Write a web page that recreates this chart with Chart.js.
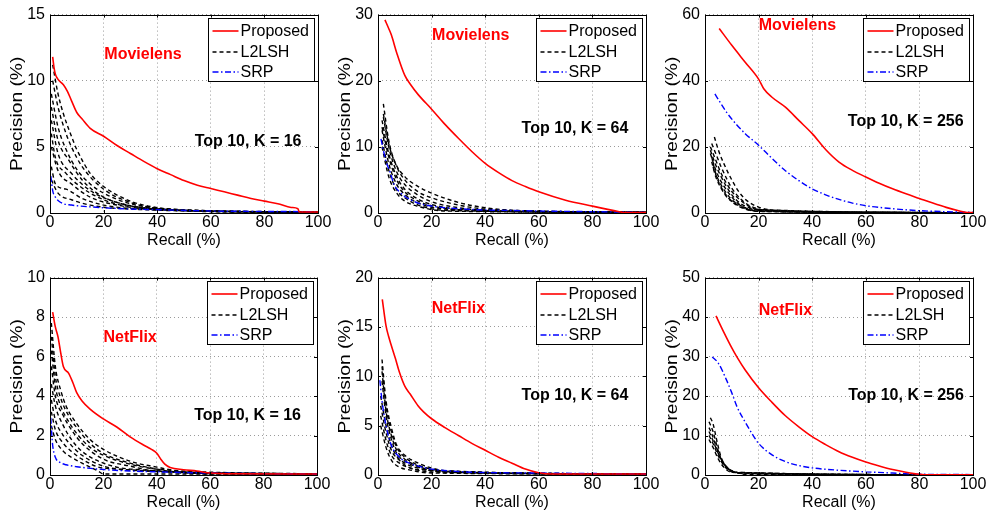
<!DOCTYPE html>
<html>
<head>
<meta charset="utf-8">
<script src="https://cdn.jsdelivr.net/npm/chart.js@4.4.0/dist/chart.umd.min.js"></script>
<style>
  html, body { margin: 0; padding: 0; background: #fff; }
  #wrap { position: relative; width: 988px; height: 517px; overflow: hidden; background: #fff; }
  #wrap canvas { position: absolute; }
</style>
</head>
<body>
<div id="wrap"></div>
<script>
// ── Data: [recall %, precision %] ─────────────────────────────────

const recallTicks = [0, 20, 40, 60, 80, 100];
const legendLabels = ["Proposed", "L2LSH", "SRP"];

// Movielens, K = 16
const movie16Proposed = [[1,11.8],[1.5,11],[2,10.5],[3,10.1],[5,9.7],[6.5,9.2],[8,8.5],[10,7.6],[12,7.1],[15,6.4],[20,5.8],[25,5.1],[30,4.5],[35,3.9],[40,3.35],[45,2.9],[50,2.45],[55,2.1],[60,1.85],[65,1.6],[70,1.35],[75,1.1],[80,0.9],[85,0.7],[90,0.42],[92.5,0.32],[93,0.08],[100,0.08]];
const movie16Srp = [[0.3,2.8],[1,1.7],[2,1.2],[3,0.95],[5,0.7],[8,0.6],[10,0.55],[20,0.4],[30,0.3],[40,0.25],[60,0.15],[80,0.12],[100,0.1]];
const movie16L2lsh = [
  [[1,11.2],[3,9],[5,7.5],[8,5.8],[10,4.8],[15,3],[20,2],[30,0.9],[40,0.4],[50,0.2],[60,0.1],[100,0.05]],
  [[1,10],[3,8],[6,6],[8,5],[12,3.5],[20,1.8],[30,0.8],[40,0.35],[55,0.15],[100,0.05]],
  [[0.5,9],[3,6.5],[6,4.8],[10,3.3],[15,2.2],[20,1.5],[30,0.7],[45,0.3],[100,0.05]],
  [[0.5,8],[3,5.5],[7,4],[12,2.5],[20,1.2],[30,0.55],[40,0.3],[100,0.05]],
  [[0.5,7],[3,4.5],[8,3],[15,1.7],[25,0.8],[40,0.3],[100,0.05]],
  [[0.5,6],[2,4.2],[6,3],[10,2.2],[20,1],[30,0.5],[100,0.05]],
  [[0.5,5],[3,3.2],[8,2.2],[15,1.2],[25,0.6],[40,0.25],[100,0.05]],
  [[0.5,3.5],[2,2.2],[6,1.8],[12,1.1],[20,0.6],[30,0.35],[100,0.05]],
  [[0.5,2.5],[3,1.5],[8,1],[15,0.6],[25,0.35],[100,0.05]]
];

// Movielens, K = 64
const movie64Proposed = [[2.6,29.2],[4,27.9],[5,26.9],[7,24.2],[10,20.8],[12,19.5],[15,17.9],[20,15.7],[25,13.4],[30,11.3],[35,9.3],[40,7.5],[45,6.1],[50,4.9],[55,4],[60,3.2],[70,1.93],[80,1.04],[90,0.2],[92,0.05],[100,0.05]];
const movie64Srp = [[1.1,11.2],[2,9.5],[3,7.8],[4.5,6.2],[6,4.3],[8,3.2],[10,2.5],[15,1.5],[20,1.05],[25,0.8],[30,0.65],[40,0.45],[50,0.38],[60,0.3],[80,0.2],[100,0.1]];
const movie64L2lsh = [
  [[2,16.5],[4,11],[6,8],[10,5.5],[15,4],[20,3],[30,1.6],[40,0.8],[50,0.4],[100,0.1]],
  [[2,15],[4,10.5],[7,7],[10,5],[15,3.2],[20,2.3],[30,1.2],[40,0.6],[100,0.1]],
  [[2,14.5],[4,10],[7,6.2],[10,4.3],[15,2.7],[20,1.7],[30,0.8],[45,0.3],[100,0.1]],
  [[1.5,14],[4,9],[7,5.5],[10,3.6],[15,2.1],[20,1.3],[30,0.6],[100,0.1]],
  [[1.5,13],[4,8.5],[7,5],[10,3.2],[15,1.8],[20,1.1],[30,0.5],[100,0.1]],
  [[1.5,12.5],[4,7.5],[7,4.3],[10,2.8],[15,1.5],[25,0.6],[100,0.1]],
  [[1.5,11],[4,6.5],[7,3.5],[10,2.3],[15,1.2],[25,0.4],[100,0.1]],
  [[1.5,10],[4,5.5],[7,3],[10,1.8],[15,1],[25,0.3],[100,0.1]]
];

// Movielens, K = 256
const movie256Proposed = [[5.3,55.8],[10,50.7],[15,45.6],[20,40.5],[22,37.5],[25,35],[30,32],[35,28],[40,24],[45,19.2],[50,15.4],[55,12.9],[60,10.9],[65,9],[70,7.3],[75,5.8],[80,4.4],[85,3],[90,1.7],[95,0.6],[98,0.1],[100,0.1]];
const movie256Srp = [[3.7,36],[6,33],[8,30.5],[11.8,26.7],[15,24],[20,20.5],[25,16.5],[30,12.8],[35,9.8],[40,7.3],[45,5.5],[50,4.1],[55,3],[60,2.2],[70,1.3],[80,0.7],[90,0.4],[100,0.2]];
const movie256L2lsh = [
  [[3.5,23],[5,19],[7,15],[10,10],[13,6],[16,3.5],[20,1.8],[25,0.8],[30,0.4],[100,0.1]],
  [[2.5,21],[4,18],[6,14],[8,10.5],[10,7.5],[13,4.5],[16,2.5],[20,1.2],[25,0.5],[100,0.1]],
  [[2,20],[4,16],[6,12],[8,9],[10,6.5],[13,4],[16,2.2],[20,1],[100,0.1]],
  [[2,19],[4,14.5],[6,11],[8,8],[10,5.5],[13,3],[17,1.5],[22,0.6],[100,0.1]],
  [[2,18],[4,13],[6,9.5],[8,7],[10,4.8],[13,2.5],[17,1.2],[100,0.1]],
  [[2.5,17],[4,12],[6,8.5],[8,6],[10,4],[14,2],[18,0.8],[100,0.1]],
  [[2.5,15.5],[4,11],[6,7.5],[8,5],[11,3],[15,1.3],[20,0.5],[100,0.1]],
  [[3,14],[5,9.5],[7,6.5],[10,3.5],[14,1.5],[20,0.5],[100,0.1]]
];

// NetFlix, K = 16
const netflix16Proposed = [[1,8.25],[2,7.5],[3,7],[4,6.2],[5,5.5],[7,5.15],[8.5,4.7],[10,4.17],[12,3.75],[15,3.34],[20,2.84],[25,2.43],[30,1.93],[35,1.52],[38,1.3],[40,1.1],[41.5,0.8],[43,0.55],[45,0.38],[50,0.27],[55,0.2],[60,0.1],[70,0.06],[100,0.05]];
const netflix16Srp = [[0.3,2.9],[0.7,2],[1,1.5],[2,0.9],[4,0.62],[6,0.52],[10,0.42],[20,0.28],[30,0.2],[40,0.16],[60,0.1],[100,0.05]];
const netflix16L2lsh = [
  [[0.5,7.7],[2,5.5],[4,4.3],[6,3.5],[10,2.6],[15,1.8],[20,1.3],[30,0.7],[40,0.4],[50,0.15],[60,0.05],[100,0.05]],
  [[0.5,7],[2,5],[4,3.9],[7,3],[10,2.4],[15,1.6],[20,1.1],[30,0.6],[40,0.3],[50,0.1],[100,0.05]],
  [[0.5,6.3],[2,4.5],[4,3.5],[7,2.7],[10,2.1],[15,1.4],[20,1],[30,0.55],[40,0.3],[100,0.05]],
  [[0.5,5.5],[2,4],[5,3],[8,2.3],[12,1.6],[20,0.8],[30,0.45],[40,0.2],[100,0.05]],
  [[0.5,4.6],[2,3.5],[5,2.5],[8,1.8],[12,1.2],[20,0.6],[30,0.3],[100,0.05]],
  [[0.5,3.8],[2,2.8],[5,2],[8,1.5],[12,1],[20,0.45],[30,0.25],[100,0.05]],
  [[0.5,3.2],[2,2.3],[5,1.6],[8,1.2],[12,0.8],[20,0.35],[100,0.05]],
  [[0.5,2.5],[2,1.8],[5,1.2],[8,0.9],[12,0.6],[18,0.2],[20,0.05],[100,0.05]]
];

// NetFlix, K = 64
const netflix64Proposed = [[1.6,17.8],[3,15.1],[4,14],[5,13.1],[6.5,11.8],[8,10.4],[10,9],[12,8.2],[15,7],[17,6.4],[20,5.7],[25,4.8],[30,4],[35,3.2],[40,2.5],[45,1.8],[50,1.2],[55,0.6],[60,0.22],[65,0.1],[100,0.1]];
const netflix64Srp = [[0.7,9.6],[1.5,7.5],[3,5],[5,3],[8,1.8],[10,1.4],[15,0.9],[20,0.6],[30,0.35],[40,0.25],[60,0.2],[80,0.15],[100,0.1]];
const netflix64L2lsh = [
  [[1.5,11.7],[3,7.5],[5,4.8],[7,3],[10,2],[15,1.2],[20,0.7],[30,0.3],[100,0.1]],
  [[1.5,11],[3,7],[5,4.4],[7,2.8],[10,1.8],[15,1],[20,0.6],[30,0.25],[100,0.1]],
  [[1.5,10.5],[3,6.5],[5,4],[7,2.5],[10,1.6],[15,0.9],[20,0.5],[100,0.1]],
  [[1.5,9.5],[3,6],[5,3.6],[7,2.2],[10,1.4],[15,0.8],[20,0.45],[100,0.1]],
  [[1,8],[3,5],[5,3],[7,1.9],[10,1.2],[15,0.7],[25,0.3],[100,0.1]],
  [[1,7],[3,4.3],[5,2.5],[8,1.5],[10,1],[15,0.55],[100,0.1]],
  [[1,6],[3,3.5],[5,2],[8,1.2],[12,0.7],[20,0.3],[100,0.1]],
  [[1,5],[3,2.8],[5,1.5],[8,0.8],[12,0.5],[20,0.2],[100,0.1]]
];

// NetFlix, K = 256
const netflix256Proposed = [[4.1,40.3],[7,36.2],[10,32.2],[12,29.8],[15,26.6],[20,22.1],[25,18.4],[30,15],[35,12.2],[40,9.7],[45,7.7],[50,5.9],[55,4.5],[60,3.3],[65,2.3],[70,1.4],[75,0.7],[80,0.15],[82,0.05],[100,0.05]];
const netflix256Srp = [[2.7,29.9],[5,28.3],[8,24.1],[10,20.8],[12,17.2],[15,13.4],[18,10],[20,8],[25,5.1],[30,3.4],[35,2.4],[40,1.8],[50,1.2],[60,0.8],[70,0.5],[80,0.2],[100,0.1]];
const netflix256L2lsh = [
  [[2,14.5],[3,13],[4,10],[5,7],[6,4.5],[7,3],[9,1.5],[12,0.6],[15,0.2],[100,0.05]],
  [[1.5,13.5],[3,11],[4,8.5],[5,6],[6,4],[8,2],[10,1],[13,0.4],[100,0.05]],
  [[1.5,12],[2.5,10.5],[4,7.5],[5,5.5],[7,3],[9,1.5],[12,0.5],[100,0.05]],
  [[1.5,11],[2.5,9.5],[4,7],[6,4],[8,2],[11,0.7],[100,0.05]],
  [[1.5,10],[3,8],[4.5,5.5],[6,3.5],[8,1.7],[11,0.6],[100,0.05]],
  [[1.5,9],[3,7],[5,4],[7,2],[10,0.7],[100,0.05]]
];

// ── Panel setup ───────────────────────────────────────────────────

const FONT = '"Liberation Sans", Arial, Helvetica, sans-serif';

const panels = [
  { left: 50,  top: 11,  w: 268, h: 202, yMax: 15, yStep: 5,  name: "Movielens", nameAt: [34.7, 11.95], topk: "Top 10, K = 16",  topkAt: [73.9, 5.42],
    proposed: movie16Proposed, srp: movie16Srp, l2lsh: movie16L2lsh },
  { left: 378, top: 11,  w: 268, h: 202, yMax: 30, yStep: 10, name: "Movielens", nameAt: [34.6, 26.9], topk: "Top 10, K = 64",  topkAt: [73.5, 12.8],
    proposed: movie64Proposed, srp: movie64Srp, l2lsh: movie64L2lsh },
  { left: 705, top: 11,  w: 268, h: 202, yMax: 60, yStep: 20, name: "Movielens", nameAt: [34.5, 56.8], topk: "Top 10, K = 256", topkAt: [74.9, 27.6],
    proposed: movie256Proposed, srp: movie256Srp, l2lsh: movie256L2lsh },
  { left: 50,  top: 274, w: 267, h: 201, yMax: 10, yStep: 2,  name: "NetFlix", nameAt: [30, 6.97], topk: "Top 10, K = 16",  topkAt: [74, 3.0],
    proposed: netflix16Proposed, srp: netflix16Srp, l2lsh: netflix16L2lsh },
  { left: 378, top: 274, w: 268, h: 201, yMax: 20, yStep: 5,  name: "NetFlix", nameAt: [30, 16.9], topk: "Top 10, K = 64",  topkAt: [73.5, 8.0],
    proposed: netflix64Proposed, srp: netflix64Srp, l2lsh: netflix64L2lsh },
  { left: 705, top: 274, w: 268, h: 201, yMax: 50, yStep: 10, name: "NetFlix", nameAt: [30, 41.7], topk: "Top 10, K = 256", topkAt: [75, 20],
    proposed: netflix256Proposed, srp: netflix256Srp, l2lsh: netflix256L2lsh }
];

const PAD_L = 50, PAD_T = 11, PAD_R = 16, PAD_B = 46;

function toXY(pairs) {
  return pairs.map(function (p) { return { x: p[0], y: p[1] }; });
}

const lineStyles = [
  { color: "#ff0000", width: 1.6, dash: [] },
  { color: "#000000", width: 1.4, dash: [4, 3] },
  { color: "#0000ff", width: 1.4, dash: [6, 2.5, 1.5, 2.5] }
];

// Frame, inner ticks, y label, text labels and legend box (MATLAB look)
function framePlugin(p) {
  return {
    id: "frame",
    afterDraw: function (chart) {
      const ctx = chart.ctx;
      const ca = chart.chartArea;
      const xs = chart.scales.x, ys = chart.scales.y;
      ctx.save();

      // inward tick marks
      ctx.strokeStyle = "#000";
      ctx.lineWidth = 1;
      ctx.setLineDash([]);
      ctx.beginPath();
      recallTicks.forEach(function (t) {
        const px = Math.round(xs.getPixelForValue(t)) + 0.5;
        ctx.moveTo(px, ca.bottom); ctx.lineTo(px, ca.bottom - 3);
        ctx.moveTo(px, ca.top); ctx.lineTo(px, ca.top + 3);
      });
      for (let v = 0; v <= p.yMax; v += p.yStep) {
        const py = Math.round(ys.getPixelForValue(v)) + 0.5;
        ctx.moveTo(ca.left, py); ctx.lineTo(ca.left + 3, py);
        ctx.moveTo(ca.right, py); ctx.lineTo(ca.right - 3, py);
      }
      ctx.stroke();

      // box
      ctx.strokeRect(Math.round(ca.left) + 0.5, Math.round(ca.top) + 0.5,
        Math.round(ca.right - ca.left), Math.round(ca.bottom - ca.top));

      // y axis label, slightly stretched like the reference
      ctx.save();
      ctx.translate(18, (ca.top + ca.bottom) / 2);
      ctx.rotate(-Math.PI / 2);
      ctx.scale(1.2, 1);
      ctx.font = "16px " + FONT;
      ctx.fillStyle = "#000";
      ctx.textAlign = "center";
      ctx.textBaseline = "middle";
      ctx.fillText("Precision (%)", 0, 0);
      ctx.restore();

      // annotations
      ctx.font = "bold 16px " + FONT;
      ctx.textAlign = "center";
      ctx.textBaseline = "middle";
      ctx.fillStyle = "#ff0000";
      ctx.fillText(p.name, xs.getPixelForValue(p.nameAt[0]), ys.getPixelForValue(p.nameAt[1]));
      ctx.fillStyle = "#000";
      ctx.fillText(p.topk, xs.getPixelForValue(p.topkAt[0]), ys.getPixelForValue(p.topkAt[1]));

      // legend
      const bw = 106, bh = 63;
      const bx = Math.round(ca.right - 4 - bw) + 0.5;
      const by = Math.round(ca.top + 3) + 0.5;
      ctx.fillStyle = "#fff";
      ctx.fillRect(bx, by, bw, bh);
      ctx.strokeStyle = "#000";
      ctx.lineWidth = 1;
      ctx.strokeRect(bx, by, bw, bh);
      const rows = [12, 33, 53];
      ctx.font = "16px " + FONT;
      ctx.textAlign = "left";
      legendLabels.forEach(function (lab, i) {
        const st = lineStyles[i];
        const ly = Math.round(by + rows[i]);
        ctx.beginPath();
        ctx.strokeStyle = st.color;
        ctx.lineWidth = st.width;
        ctx.setLineDash(st.dash);
        ctx.moveTo(bx + 4, ly);
        ctx.lineTo(bx + 30, ly);
        ctx.stroke();
        ctx.setLineDash([]);
        ctx.fillStyle = "#000";
        ctx.fillText(lab, bx + 32, ly + 1);
      });
      ctx.restore();
    }
  };
}

function makePanel(p) {
  const canvas = document.createElement("canvas");
  const W = p.w + PAD_L + PAD_R, H = p.h + PAD_T + PAD_B;
  canvas.width = W;
  canvas.height = H;
  canvas.style.left = (p.left - PAD_L) + "px";
  canvas.style.top = (p.top - PAD_T) + "px";
  canvas.style.width = W + "px";
  canvas.style.height = H + "px";
  document.getElementById("wrap").appendChild(canvas);

  const datasets = [];
  datasets.push({ label: legendLabels[0], data: toXY(p.proposed), borderColor: lineStyles[0].color,
    borderWidth: lineStyles[0].width, borderDash: lineStyles[0].dash });
  datasets.push({ label: legendLabels[2], data: toXY(p.srp), borderColor: lineStyles[2].color,
    borderWidth: lineStyles[2].width, borderDash: lineStyles[2].dash });
  p.l2lsh.forEach(function (curve) {
    datasets.push({ label: legendLabels[1], data: toXY(curve), borderColor: lineStyles[1].color,
      borderWidth: lineStyles[1].width, borderDash: lineStyles[1].dash });
  });

  const tickFont = { family: FONT, size: 16 };

  new Chart(canvas, {
    type: "line",
    data: { datasets: datasets },
    options: {
      responsive: false,
      animation: false,
      devicePixelRatio: 1,
      layout: { padding: { top: PAD_T, right: PAD_R, left: 0, bottom: 0 } },
      elements: {
        point: { radius: 0 },
        line: { fill: false, cubicInterpolationMode: "monotone" }
      },
      plugins: { legend: { display: false }, tooltip: { enabled: false } },
      scales: {
        x: {
          type: "linear", min: 0, max: 100,
          afterBuildTicks: function (s) { s.ticks = recallTicks.map(function (v) { return { value: v }; }); },
          afterFit: function (s) { s.height = PAD_B; },
          ticks: { color: "#000", font: tickFont, padding: 0, maxRotation: 0 },
          grid: { color: "#9a9a9a", lineWidth: 1, drawTicks: false },
          border: { display: false, dash: [1, 3] },
          title: { display: true, text: "Recall (%)", color: "#000", font: tickFont, padding: { top: 0, bottom: 9 } }
        },
        y: {
          type: "linear", min: 0, max: p.yMax,
          ticks: { stepSize: p.yStep, color: "#000", font: tickFont, padding: 5 },
          afterFit: function (s) { s.width = PAD_L; },
          grid: { color: "#9a9a9a", lineWidth: 1, drawTicks: false },
          border: { display: false, dash: [1, 3] },
          title: { display: false }
        }
      }
    },
    plugins: [framePlugin(p)]
  });
}

panels.forEach(makePanel);
</script>
</body>
</html>
